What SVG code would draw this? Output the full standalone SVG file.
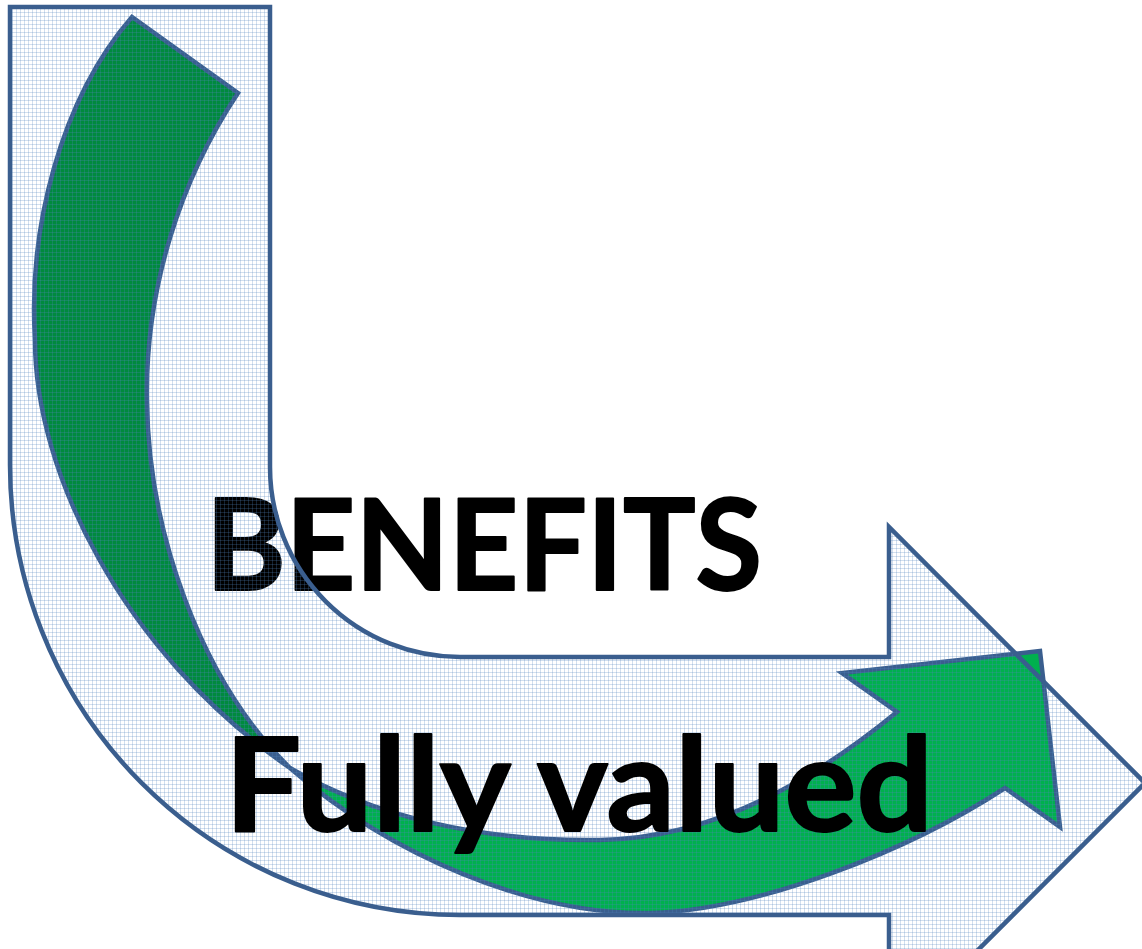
<svg xmlns="http://www.w3.org/2000/svg" width="1142" height="949" viewBox="0 0 1142 949">
  <style>
    .outline { fill: none; stroke: #3A5E8E; stroke-width: 4.5; stroke-linejoin: miter; }
    .label { font-family: Lato, "Open Sans", "Liberation Sans", sans-serif; font-weight: bold; fill: #000000; stroke: #000000; stroke-width: 2; stroke-linejoin: round; }
  </style>
  <defs>
    <pattern id="dots" width="4" height="4" patternUnits="userSpaceOnUse">
      <rect x="0" y="0" width="4" height="1" fill="#4F81BD" fill-opacity="0.26"/>
      <rect x="0" y="0" width="1" height="4" fill="#4F81BD" fill-opacity="0.26"/>
    </pattern>
    <linearGradient id="greenFill" gradientUnits="userSpaceOnUse" x1="285" y1="0" x2="315" y2="0">
      <stop offset="0" stop-color="#008A3E"/>
      <stop offset="1" stop-color="#00B04E"/>
    </linearGradient>
    <path id="bentShape" d="M10,7 L270,7 L270,467 A190,190 0 0 0 460,657 L889,657 L889,527 L1145,783 L889,1039 L889,915 L460,915 A450,450 0 0 1 10,465 Z"/>
  </defs>

  <rect width="1142" height="949" fill="#FFFFFF"/>

  <g id="bent-arrow-base">
    <use href="#bentShape" fill="#FFFFFF"/>
  </g>

  <g id="label-benefits">
    <text class="label" x="206" y="590" font-size="126" textLength="556" lengthAdjust="spacingAndGlyphs">BENEFITS</text>
  </g>

  <g id="green-arrow">
    <path d="M132,17 C60,100 28,230 35,340 C35,470 120,650 290,768 C370,815 480,842 600,840 C720,838 820,775 897,712 L842,673 L1040,651 L1060,827 L1005,788 C910,850 760,910 650,913 C530,915 390,855 290,768 C200,680 148,530 147,400 C145,290 180,180 238,93 Z" fill="url(#greenFill)" stroke="#3A5E8E" stroke-width="4.5" stroke-linejoin="miter"/>
  </g>

  <g id="bent-arrow">
    <use href="#bentShape" fill="url(#dots)"/>
    <use href="#bentShape" class="outline"/>
  </g>

  <g id="label-fully-valued">
    <text class="label" x="225" y="831" font-size="130" textLength="708" lengthAdjust="spacingAndGlyphs">Fully valued</text>
  </g>
</svg>
